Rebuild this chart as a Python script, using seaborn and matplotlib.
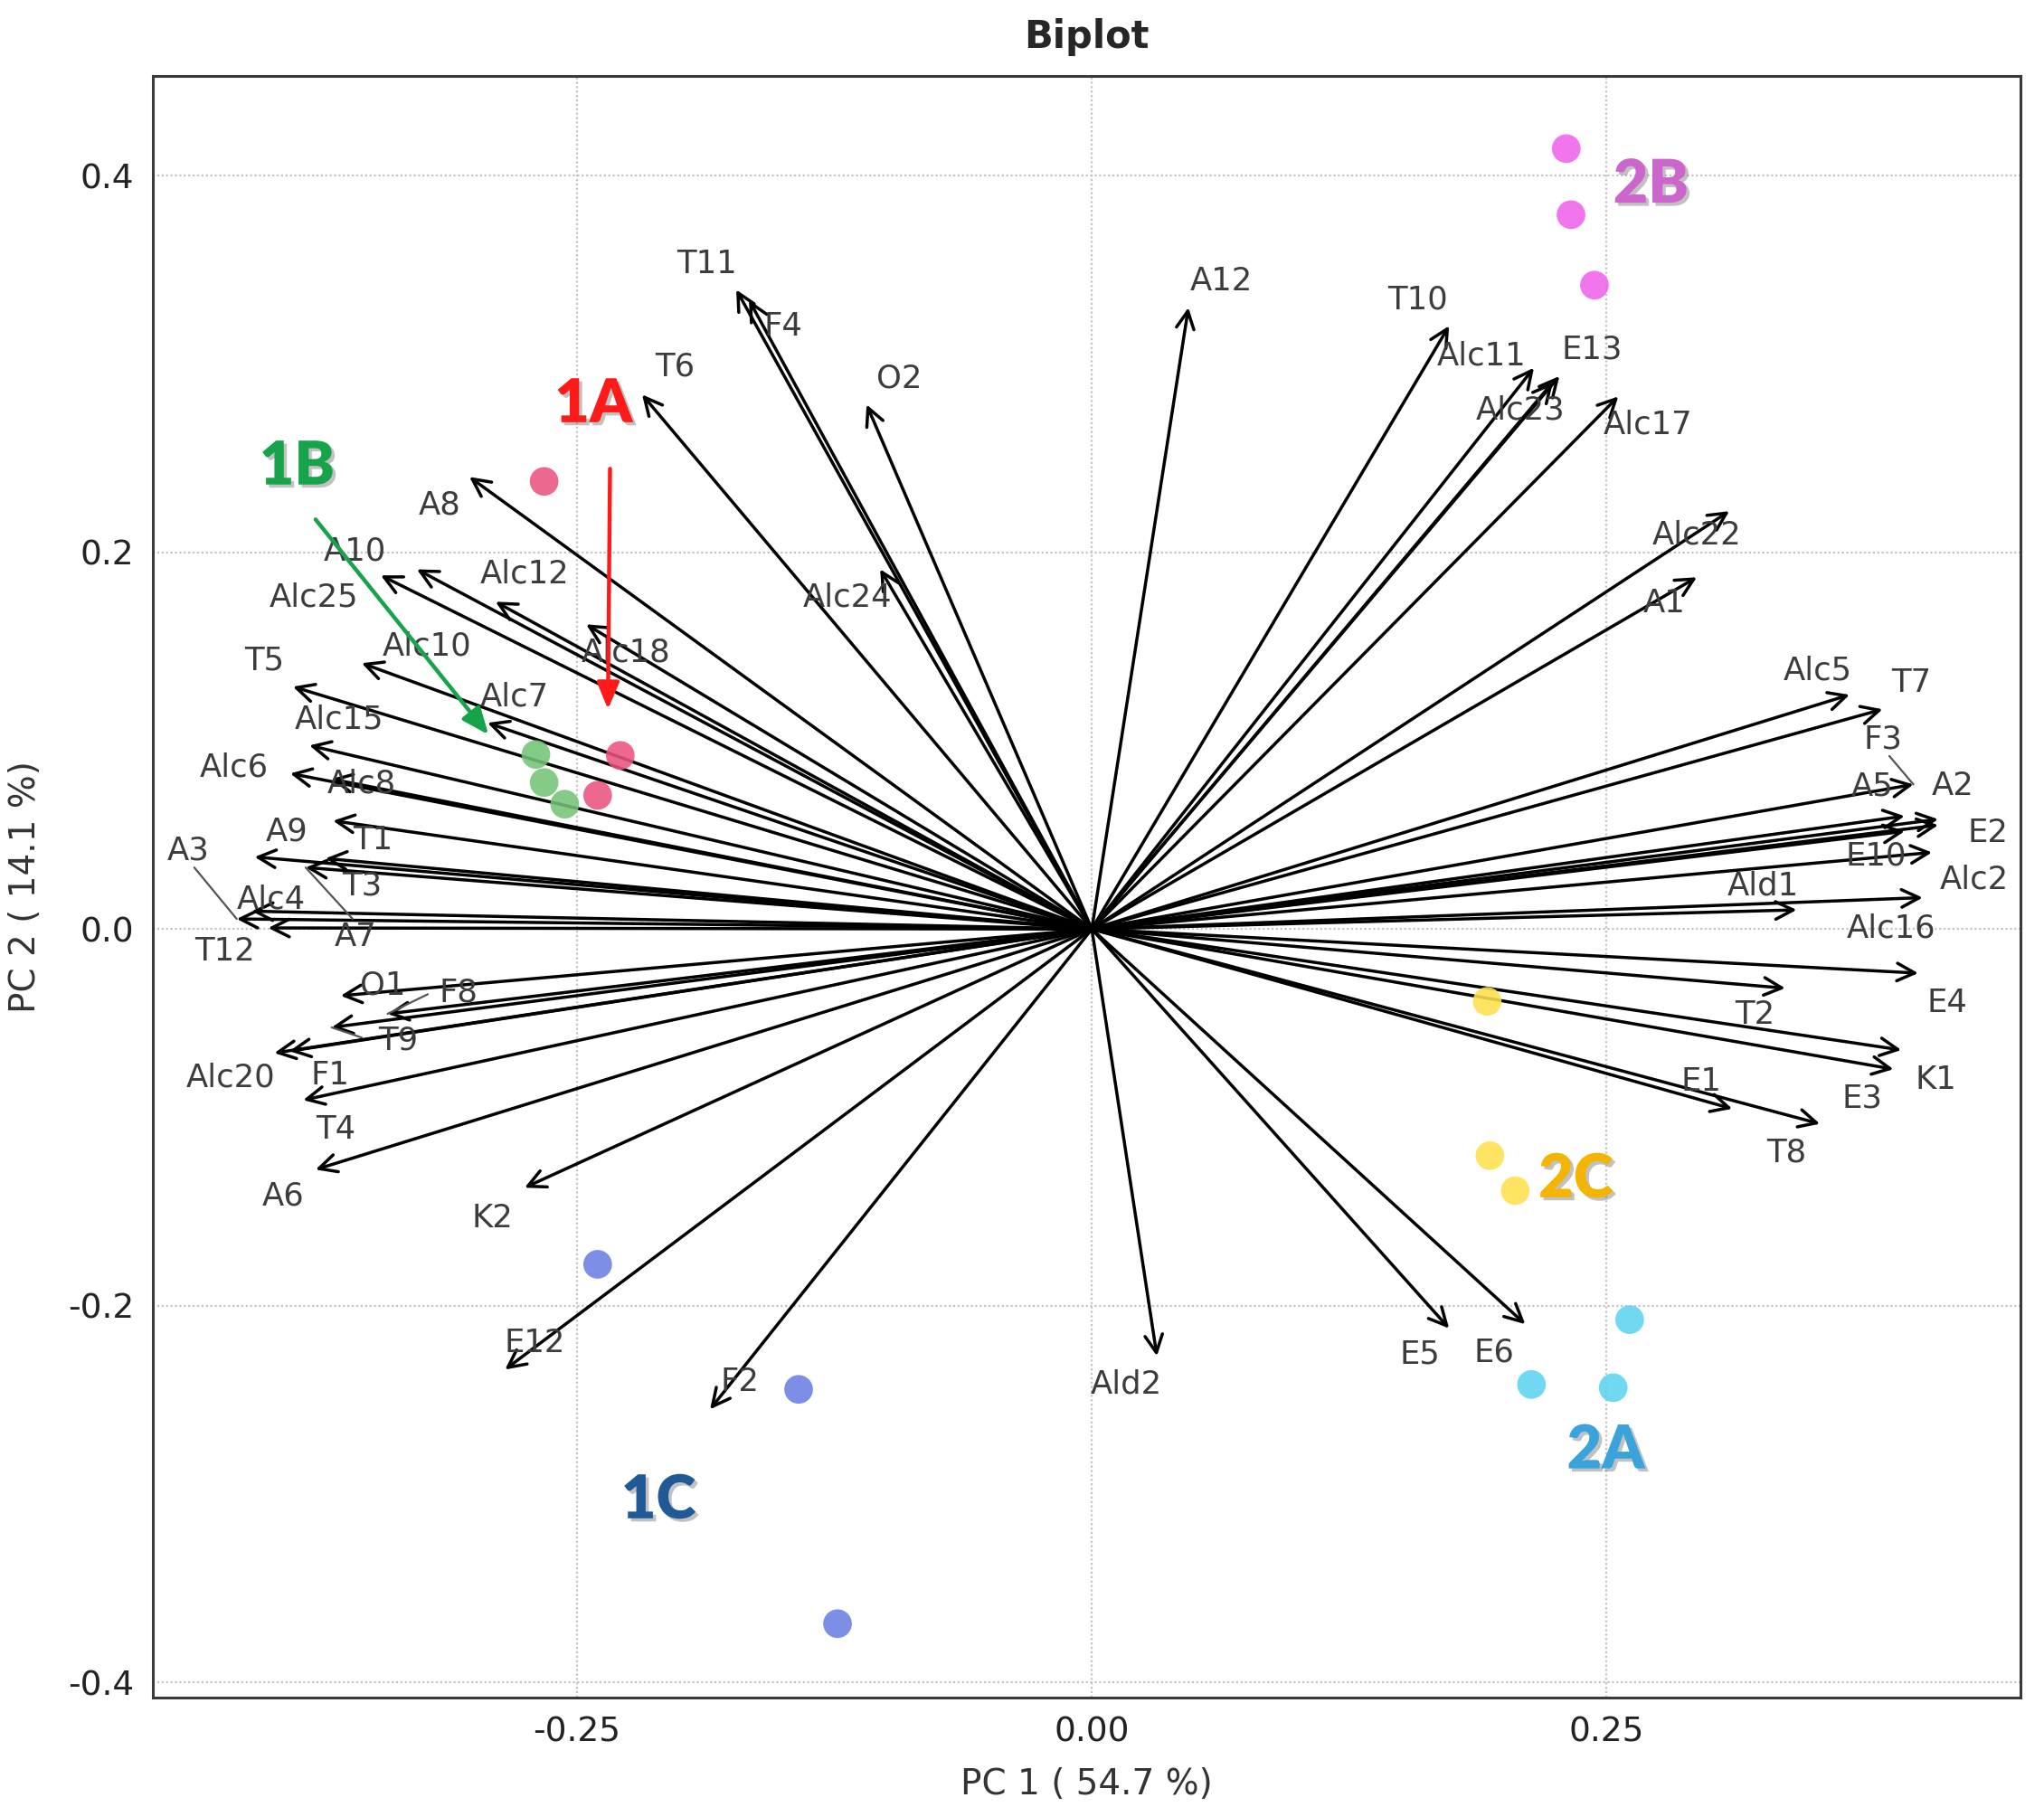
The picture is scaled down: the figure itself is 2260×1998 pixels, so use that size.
import matplotlib
matplotlib.use("Agg")
import matplotlib.pyplot as plt
import matplotlib.patheffects as pe
import seaborn as sns
import pandas as pd

# --- loadings: arrow tips and where their labels sit ---
var_names = ["T11", "F4", "T6", "O2", "A8", "A10", "Alc25", "Alc12", "Alc18", "Alc24",
             "Alc10", "T5", "Alc7", "Alc15", "Alc6", "Alc8", "T1", "A9", "T3", "A7",
             "A3", "Alc4", "T12", "O1", "F8", "T9", "Alc20", "F1", "T4", "A6",
             "K2", "E12", "F2", "Ald2", "E5", "E6", "A12", "T10", "Alc11", "E13",
             "Alc23", "Alc17", "Alc22", "A1", "Alc5", "T7", "F3", "A5", "A2", "E2",
             "Alc16", "E10", "Alc2", "Ald1", "E4", "T2", "K1", "E3", "E1", "T8"]
var_x = [-0.1727, -0.1665, -0.2184, -0.1094, -0.3023, -0.3278, -0.3453, -0.2896, -0.2456, -0.1028,
         -0.3546, -0.3880, -0.2935, -0.3800, -0.3893, -0.3695, -0.3685, -0.4066, -0.3722, -0.3818,
         -0.4153, -0.4080, -0.4000, -0.3648, -0.3420, -0.3692, -0.3970, -0.3897, -0.3830, -0.3770,
         -0.2755, -0.2850, -0.1854, 0.0316, 0.1735, 0.2105, 0.0469, 0.1735, 0.2147, 0.2271,
         0.2240, 0.2557, 0.3096, 0.2938, 0.3680, 0.3840, 0.3990, 0.3947, 0.4110, 0.4110,
         0.3947, 0.4080, 0.4035, 0.3423, 0.4013, 0.3367, 0.3931, 0.3893, 0.3110, 0.3536]
var_y = [0.3395, 0.3340, 0.2838, 0.2785, 0.2401, 0.1910, 0.1878, 0.1738, 0.1618, 0.1911,
         0.1412, 0.1287, 0.1095, 0.0975, 0.0826, 0.0797, 0.0575, 0.0383, 0.0375, 0.0327,
         0.0054, 0.0095, 0.0006, -0.0354, -0.0450, -0.0522, -0.0658, -0.0648, -0.0908, -0.1277,
         -0.1373, -0.2339, -0.2550, -0.2267, -0.2120, -0.2098, 0.3300, 0.3203, 0.2980, 0.2936,
         0.2905, 0.2828, 0.2219, 0.1868, 0.1244, 0.1167, 0.0768, 0.0600, 0.0583, 0.0552,
         0.0519, 0.0407, 0.0167, 0.0102, -0.0234, -0.0314, -0.0642, -0.0744, -0.0954, -0.1034]
lab_x = [-0.1870, -0.1500, -0.2026, -0.0936, -0.3168, -0.3577, -0.3780, -0.2755, -0.2263, -0.1186,
         -0.3230, -0.4020, -0.2803, -0.3656, -0.4165, -0.3546, -0.3490, -0.3910, -0.3546, -0.3576,
         -0.4389, -0.3985, -0.4213, -0.3444, -0.3077, -0.3370, -0.4180, -0.3700, -0.3670, -0.3928,
         -0.2913, -0.2707, -0.1710, 0.0167, 0.1593, 0.1955, 0.0627, 0.1582, 0.1894, 0.2430,
         0.2083, 0.2700, 0.2938, 0.2780, 0.3524, 0.3980, 0.3844, 0.3790, 0.4183, 0.4350,
         0.3880, 0.3807, 0.4287, 0.3260, 0.4156, 0.3220, 0.4100, 0.3740, 0.2957, 0.3374]
lab_y = [0.3530, 0.3200, 0.2987, 0.2924, 0.2252, 0.2007, 0.1760, 0.1887, 0.1467, 0.1760,
         0.1500, 0.1426, 0.1234, 0.1114, 0.0860, 0.0773, 0.0470, 0.0519, 0.0230, -0.0042,
         0.0415, 0.0158, -0.0120, -0.0298, -0.0336, -0.0594, -0.0788, -0.0778, -0.1066, -0.1420,
         -0.1537, -0.2199, -0.2406, -0.2418, -0.2257, -0.2247, 0.3440, 0.3340, 0.3044, 0.3076,
         0.2756, 0.2680, 0.2094, 0.1729, 0.1371, 0.1306, 0.1008, 0.0759, 0.0759, 0.0510,
         0.0006, 0.0390, 0.0263, 0.0230, -0.0394, -0.0457, -0.0800, -0.0898, -0.0810, -0.1186]

# labels pushed away from their arrow get a leader line
leader_names = ["A3", "A7", "F3", "F8", "T9"]
leader_x0 = [-0.4359, -0.3590, 0.3873, -0.3225, -0.3546]
leader_y0 = [0.0327, 0.0054, 0.0919, -0.0346, -0.0576]

# --- scores ---
sample_group = ["1A"] * 3 + ["1B"] * 3 + ["1C"] * 3 + ["2A"] * 3 + ["2B"] * 3 + ["2C"] * 3
sample_x = [-0.266, -0.229, -0.240, -0.270, -0.266, -0.256, -0.240, -0.1424, -0.1235,
            0.2612, 0.2135, 0.2532, 0.2304, 0.2327, 0.2441, 0.192, 0.1933, 0.2056]
sample_y = [0.2377, 0.0922, 0.0710, 0.0927, 0.0778, 0.0663, -0.178, -0.2444, -0.3688,
            -0.2074, -0.2418, -0.2435, 0.4144, 0.3793, 0.3419, -0.0384, -0.1203, -0.1389]

group_names = ["1A", "1B", "1C", "2A", "2B", "2C"]
group_lab_x = [-0.242, -0.386, -0.2105, 0.2496, 0.2715, 0.235]
group_lab_y = [0.2785, 0.2454, -0.3035, -0.277, 0.395, -0.133]

# hand-drawn callout arrows for 1A and 1B
callout_groups = ["1A", "1B"]
callout_x0 = [-0.234, -0.377]
callout_y0 = [0.2444, 0.2175]
callout_x1 = [-0.235, -0.293]
callout_y1 = [0.1167, 0.1032]

x_ticks = [-0.25, 0.0, 0.25]
y_ticks = [-0.4, -0.2, 0.0, 0.2, 0.4]

point_colors = {"1A": "#ea5380", "1B": "#74c476", "1C": "#6a7fe2",
                "2A": "#5cd3f0", "2B": "#f062ea", "2C": "#ffe14f"}
text_colors = {"1A": "#ff1a1a", "1B": "#17a34a", "1C": "#1f5a96",
               "2A": "#3aa3db", "2B": "#cc66cc", "2C": "#f5b400"}

sns.set_style("white")
plt.rcParams["font.family"] = ["DejaVu Sans"]
plt.rcParams["axes.unicode_minus"] = False

fig = plt.figure(figsize=(22.6, 19.98), dpi=100)
ax = fig.add_axes([0.0748, 0.0606, 0.9137, 0.8974])

ax.set_xlim(-0.456, 0.451)
ax.set_ylim(-0.408, 0.453)
ax.set_xticks(x_ticks)
ax.set_yticks(y_ticks)
ax.set_xticklabels([f"{v:.2f}" for v in x_ticks])
ax.set_yticklabels([f"{v:.1f}" for v in y_ticks])
ax.grid(True, linestyle=(0, (1, 1.2)), color="#c4c4c4", linewidth=1.6)
ax.set_axisbelow(True)
ax.tick_params(length=0, pad=15, labelsize=27, labelcolor="#222222")
for sp in ax.spines.values():
    sp.set_color("#3a3a3a")
    sp.set_linewidth(2.2)

# variable arrows
for name, tx, ty in zip(var_names, var_x, var_y):
    ax.annotate("", xy=(tx, ty), xytext=(0, 0),
                arrowprops=dict(arrowstyle="->,head_length=0.5,head_width=0.25",
                                color="black", lw=2.5, shrinkA=0, shrinkB=0,
                                mutation_scale=28), zorder=2)

# leader lines
tips = dict(zip(var_names, zip(var_x, var_y)))
for name, x0, y0 in zip(leader_names, leader_x0, leader_y0):
    tx, ty = tips[name]
    ax.plot([x0, tx], [y0, ty], color="#555555", lw=1.6, zorder=2)

# variable labels
for name, lx, ly in zip(var_names, lab_x, lab_y):
    ax.text(lx, ly, name, fontsize=25.5, color="#3c3c3c", ha="center", va="center", zorder=3)

# sample scores
scores = pd.DataFrame({"PC1": sample_x, "PC2": sample_y, "group": sample_group})
sns.scatterplot(data=scores, x="PC1", y="PC2", hue="group", palette=point_colors,
                s=520, alpha=0.88, edgecolor="none", legend=False, ax=ax, zorder=4)

# callout arrows
for g, x0, y0, x1, y1 in zip(callout_groups, callout_x0, callout_y0, callout_x1, callout_y1):
    ax.annotate("", xy=(x1, y1), xytext=(x0, y0),
                arrowprops=dict(arrowstyle="-|>,head_length=0.6,head_width=0.25",
                                color=text_colors[g], lw=3.2, shrinkA=0, shrinkB=0,
                                mutation_scale=30), zorder=5)

# group labels
for g, gx, gy in zip(group_names, group_lab_x, group_lab_y):
    ax.text(gx, gy, g, fontsize=48, fontweight="heavy", family=["Lato", "DejaVu Sans"],
            color=text_colors[g], ha="center", va="center", zorder=6,
            path_effects=[pe.withSimplePatchShadow(offset=(2.5, -2.5),
                                                   shadow_rgbFace="#777777", alpha=0.45)])

ax.set_xlabel("PC 1 ( 54.7 %)", fontsize=28, color="#333333")
ax.set_ylabel("PC 2 ( 14.1 %)", fontsize=28, color="#333333")
ax.xaxis.set_label_coords(0.5, -0.043)
ax.yaxis.set_label_coords(-0.059, 0.5)
ax.set_title("Biplot", fontsize=30, fontweight="bold", pad=22)

fig.savefig("out.png", dpi=100)
